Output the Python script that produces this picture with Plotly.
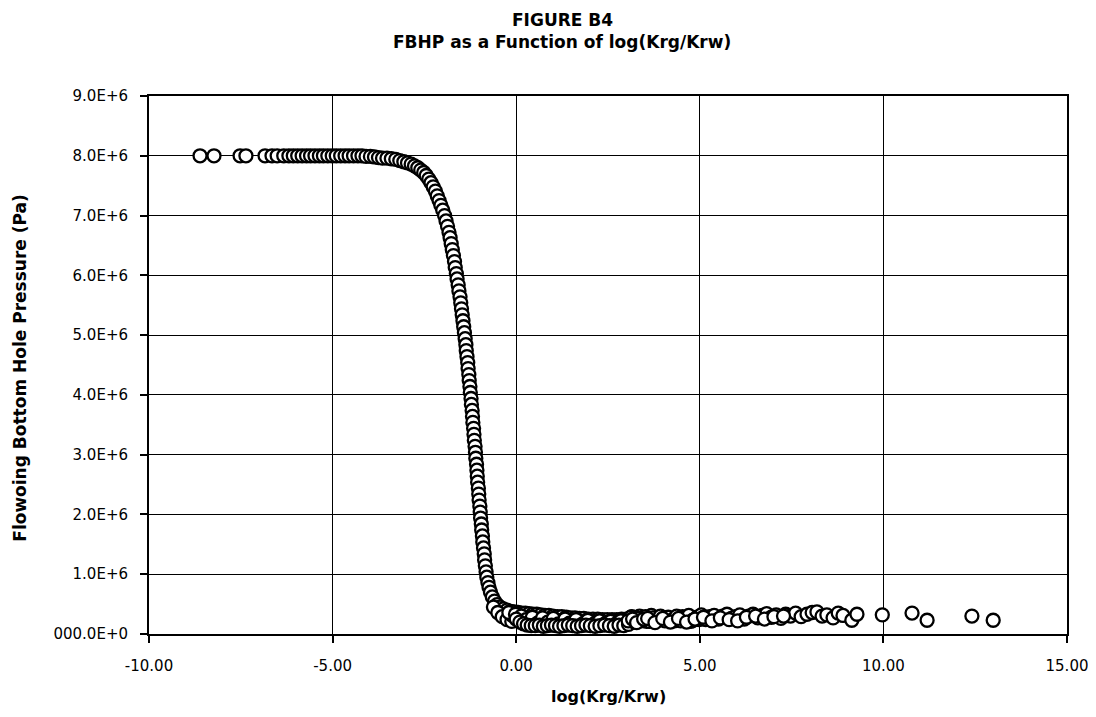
import plotly.graph_objects as go

# ---------------- data (x = log(Krg/Krw), p = FBHP in MPa) ----------------
plateau_x = [-8.61, -8.23, -7.52, -7.36, -6.84, -6.65, -6.51, -6.33, -6.19, -6.07,
             -5.95, -5.83, -5.71, -5.60, -5.48, -5.36, -5.25, -5.13, -5.01, -4.90,
             -4.78, -4.66, -4.55, -4.43, -4.31, -4.20, -4.09, -3.97, -3.86, -3.75, -3.64]
plateau_p = [8.00, 8.00, 8.00, 8.00, 8.00, 8.00, 8.00, 8.00, 8.00, 8.00,
             8.00, 8.00, 8.00, 8.00, 8.00, 8.00, 8.00, 8.00, 8.00, 8.00,
             8.00, 8.00, 8.00, 8.00, 8.00, 8.00, 7.99, 7.99, 7.98, 7.97, 7.96]

drop_x = [-3.52, -3.40, -3.28, -3.17, -3.06, -2.96, -2.86, -2.77, -2.68, -2.60,
          -2.52, -2.45, -2.38, -2.32, -2.26, -2.20, -2.15, -2.10, -2.05, -2.00,
          -1.95, -1.91, -1.87, -1.83, -1.80, -1.77, -1.74, -1.71, -1.68, -1.66,
          -1.63, -1.61, -1.58, -1.56, -1.53, -1.51, -1.49, -1.47, -1.45, -1.43,
          -1.41, -1.39, -1.37, -1.36, -1.34, -1.32, -1.31, -1.29, -1.28, -1.26,
          -1.25, -1.23, -1.22, -1.20, -1.19, -1.18, -1.16, -1.15, -1.14, -1.12,
          -1.11, -1.10, -1.08, -1.07, -1.06, -1.05, -1.03, -1.02, -1.01, -0.99,
          -0.98, -0.97, -0.95, -0.94, -0.92, -0.91, -0.89, -0.87, -0.86, -0.84,
          -0.82, -0.80, -0.77, -0.74, -0.70, -0.65, -0.59, -0.52, -0.44, -0.35,
          -0.25, -0.15, -0.62, -0.50, -0.38, -0.25, -0.12]
drop_p = [7.96, 7.95, 7.94, 7.92, 7.90, 7.88, 7.86, 7.83, 7.80, 7.76,
          7.72, 7.67, 7.61, 7.55, 7.48, 7.41, 7.33, 7.25, 7.17, 7.09,
          7.00, 6.91, 6.82, 6.72, 6.63, 6.53, 6.43, 6.33, 6.23, 6.13,
          6.03, 5.94, 5.84, 5.74, 5.64, 5.54, 5.44, 5.34, 5.24, 5.14,
          5.04, 4.94, 4.84, 4.74, 4.64, 4.54, 4.44, 4.34, 4.24, 4.14,
          4.04, 3.94, 3.84, 3.74, 3.64, 3.54, 3.44, 3.34, 3.24, 3.14,
          3.04, 2.94, 2.84, 2.74, 2.64, 2.54, 2.44, 2.34, 2.24, 2.14,
          2.04, 1.94, 1.84, 1.74, 1.64, 1.54, 1.44, 1.34, 1.24, 1.14,
          1.04, 0.95, 0.86, 0.78, 0.70, 0.62, 0.55, 0.49, 0.45, 0.42,
          0.40, 0.38, 0.45, 0.36, 0.29, 0.24, 0.21]

floor_upper_x = [-0.05, 0.05, 0.15, 0.25, 0.35, 0.45, 0.56, 0.67, 0.78, 0.89,
                 1.00, 1.12, 1.24, 1.36, 1.48, 1.60, 1.72, 1.84, 1.96, 2.09,
                 2.22, 2.35, 2.48, 2.61, 2.74, 2.87, 3.00]
floor_upper_p = [0.37, 0.36, 0.35, 0.35, 0.34, 0.33, 0.33, 0.32, 0.31, 0.31,
                 0.30, 0.29, 0.29, 0.28, 0.27, 0.27, 0.26, 0.26, 0.25, 0.25,
                 0.25, 0.24, 0.24, 0.24, 0.24, 0.25, 0.25]

floor_mid_x = [0.02, 0.20, 0.38, 0.60, 0.81, 1.03, 1.27, 1.51, 1.75, 1.99,
               2.24, 2.50, 2.76, 2.98, -0.10, 0.10, 0.30, 0.50, 0.70, 0.90,
               1.10, 1.30, 1.50, 1.70, 1.90, 2.10, 2.30, 2.50, 2.70, 2.90]
floor_mid_p = [0.28, 0.24, 0.22, 0.21, 0.22, 0.21, 0.20, 0.21, 0.20, 0.19,
               0.20, 0.19, 0.20, 0.21, 0.31, 0.29, 0.27, 0.26, 0.25, 0.24,
               0.23, 0.23, 0.22, 0.22, 0.21, 0.21, 0.20, 0.20, 0.21, 0.20]

floor_fill_x = [-0.20, -0.02, 0.14, 0.27, 0.44, 0.58, 0.72, 0.86, 1.01, 1.15,
                1.33, 1.45, 1.63, 1.81, 1.95, 2.12, 2.27, 2.44, 2.57, 2.72,
                2.85, 3.02, 3.15, 3.36, 3.55, 3.68, 3.88, 4.10, 4.31, 4.53,
                4.76, 4.98]
floor_fill_p = [0.36, 0.33, 0.30, 0.24, 0.28, 0.18, 0.27, 0.20, 0.26, 0.17,
                0.25, 0.18, 0.24, 0.17, 0.23, 0.17, 0.22, 0.18, 0.21, 0.17,
                0.22, 0.19, 0.29, 0.30, 0.21, 0.31, 0.28, 0.25, 0.22, 0.29,
                0.21, 0.24]

floor_lower_x = [0.00, 0.10, 0.20, 0.30, 0.41, 0.52, 0.63, 0.74, 0.85, 0.96,
                 1.07, 1.18, 1.30, 1.42, 1.54, 1.66, 1.78, 1.90, 2.02, 2.15,
                 2.28, 2.41, 2.54, 2.67, 2.80, 2.93, 3.06]
floor_lower_p = [0.25, 0.20, 0.17, 0.15, 0.14, 0.14, 0.15, 0.13, 0.14, 0.15,
                 0.14, 0.13, 0.14, 0.15, 0.14, 0.13, 0.14, 0.15, 0.14, 0.13,
                 0.14, 0.15, 0.14, 0.13, 0.15, 0.14, 0.16]

tail_x = [3.12, 3.22, 3.33, 3.41, 3.52, 3.63, 3.72, 3.84, 3.93, 4.05,
          4.14, 4.26, 4.37, 4.48, 4.58, 4.70, 4.81, 4.93, 5.04, 5.16,
          5.27, 5.39, 5.51, 5.62, 5.74, 5.86, 5.97, 6.09, 6.21, 6.33,
          6.45, 6.58, 6.70, 6.82, 6.95, 7.08, 7.21, 7.34, 7.47, 7.61,
          7.76, 7.92, 8.06, 8.19, 8.33, 8.46, 8.63, 8.77, 8.90, 9.14,
          9.28, 9.97, 10.78, 11.19, 12.41, 12.99]
tail_p = [0.28, 0.20, 0.26, 0.22, 0.29, 0.21, 0.27, 0.23, 0.30, 0.22,
          0.28, 0.24, 0.30, 0.22, 0.27, 0.31, 0.23, 0.28, 0.32, 0.24,
          0.29, 0.31, 0.25, 0.30, 0.33, 0.26, 0.29, 0.32, 0.25, 0.30,
          0.33, 0.27, 0.31, 0.34, 0.28, 0.32, 0.26, 0.33, 0.30, 0.35,
          0.29, 0.33, 0.36, 0.37, 0.30, 0.32, 0.27, 0.35, 0.31, 0.23,
          0.33, 0.32, 0.35, 0.23, 0.30, 0.23]

tail2_x = [3.05, 3.17, 3.28, 3.47, 3.58, 3.78, 3.99, 4.20, 4.42, 4.64,
           4.87, 5.10, 5.33, 5.56, 5.80, 6.03, 6.27, 6.52, 6.76, 7.02, 7.28]
tail2_p = [0.22, 0.25, 0.19, 0.25, 0.26, 0.19, 0.26, 0.20, 0.26, 0.20,
           0.25, 0.28, 0.22, 0.27, 0.24, 0.22, 0.28, 0.30, 0.25, 0.29, 0.30]

y_tick_vals = [0, 1e6, 2e6, 3e6, 4e6, 5e6, 6e6, 7e6, 8e6, 9e6]
y_tick_text = ["000.0E+0", "1.0E+6", "2.0E+6", "3.0E+6", "4.0E+6",
               "5.0E+6", "6.0E+6", "7.0E+6", "8.0E+6", "9.0E+6"]
x_tick_vals = [-10, -5, 0, 5, 10, 15]
x_tick_text = ["-10.00", "-5.00", "0.00", "5.00", "10.00", "15.00"]

title_line1 = "FIGURE B4"
title_line2 = "FBHP as a Function of log(Krg/Krw)"
x_title = "log(Krg/Krw)"
y_title = "Flowoing Bottom Hole Pressure (Pa)"

# ---------------- build ----------------
xs = (plateau_x + drop_x + floor_upper_x + floor_mid_x + floor_fill_x
      + floor_lower_x + tail_x + tail2_x)
ps = (plateau_p + drop_p + floor_upper_p + floor_mid_p + floor_fill_p
      + floor_lower_p + tail_p + tail2_p)
ys = [p * 1e6 for p in ps]

FONT = "'DejaVu Sans', Arial, sans-serif"

fig = go.Figure()
fig.add_trace(go.Scatter(
    x=xs, y=ys, mode="markers",
    marker=dict(symbol="circle", size=13, color="white",
                line=dict(color="black", width=2.3)),
    showlegend=False, cliponaxis=False,
))

# page body has an 8px margin, so the figure is sized/offset to compensate
fig.update_layout(
    width=1088, height=709, autosize=False,
    paper_bgcolor="white", plot_bgcolor="white",
    margin=dict(l=141, r=29, t=88, b=83),
    font=dict(family=FONT, color="black", size=15),
)

def ann(text, x, y, size, angle=0):
    fig.add_annotation(text=f"<b>{text}</b>", x=x, y=y, xref="paper", yref="paper",
                       xanchor="center", yanchor="middle", showarrow=False,
                       textangle=angle, font=dict(family=FONT, size=size, color="black"))

ann(title_line1, 0.450, 1.1413, 17)
ann(title_line2, 0.450, 1.1004, 17)
ann(x_title, 0.500, -0.117, 16)
ann(y_title, -0.140, 0.494, 17, angle=-90)

fig.update_xaxes(
    range=[-10, 15], tickvals=x_tick_vals, ticktext=x_tick_text,
    showgrid=True, gridcolor="black", gridwidth=1,
    showline=True, linecolor="black", linewidth=2, mirror=True,
    ticks="outside", ticklen=7, tickcolor="black", tickwidth=1.5,
    ticklabelstandoff=10, zeroline=False, automargin=False,
    tickfont=dict(family=FONT, size=15, color="black"),
)
fig.update_yaxes(
    range=[0, 9e6], tickvals=y_tick_vals, ticktext=y_tick_text,
    showgrid=True, gridcolor="black", gridwidth=1,
    showline=True, linecolor="black", linewidth=2, mirror=True,
    ticks="outside", ticklen=7, tickcolor="black", tickwidth=1.5,
    ticklabelstandoff=9, zeroline=False, automargin=False,
    tickfont=dict(family=FONT, size=15, color="black"),
)

fig.write_html("out.html")
